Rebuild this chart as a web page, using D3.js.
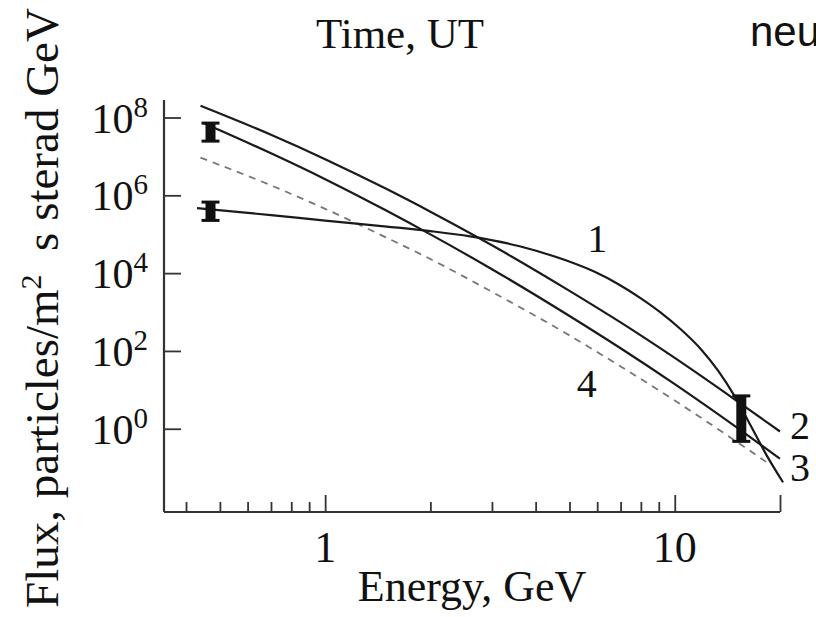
<!DOCTYPE html>
<html>
<head>
<meta charset="utf-8">
<script src="https://cdn.jsdelivr.net/npm/d3@7"></script>
<style>
  html, body { margin: 0; padding: 0; background: #fff; }
  svg { display: block; }
  .serif { font-family: "Liberation Serif", "Times New Roman", serif; fill: #111; }
  .sans { font-family: "Liberation Sans", Arial, sans-serif; fill: #111; }
</style>
</head>
<body>
<svg id="chart" width="816" height="617"></svg>
<script>
// Spectra: energy in GeV, flux in particles/(m^2 s sterad GeV)
const curve1Energy = [0.43, 0.7, 1, 1.5, 2, 2.6, 3.6, 4.9, 5.9, 6.9, 8, 9.1, 10.4, 11.9, 13.3, 14.8, 16.5, 18.3, 20.4];
const curve1Flux   = [4.7e5, 3.1e5, 2.24e5, 1.57e5, 1.2e5, 8.8e4, 4.9e4, 2.1e4, 1.08e4, 5.2e3, 2.25e3, 980, 360, 109, 31, 7.1, 1.19, 0.21, 0.042];

const curve2Energy = [0.44, 0.7, 1, 1.5, 2, 3, 5, 7, 10, 15, 20];
const curve2Flux   = [2.0e8, 3.6e7, 8.5e6, 1.45e6, 3.8e5, 5.2e4, 3.5e3, 5.4e2, 66, 5.3, 0.85];

const curve3Energy = [0.45, 0.7, 1, 1.5, 2, 3, 5, 7, 10, 15, 20];
const curve3Flux   = [7.1e7, 1.2e7, 2.6e6, 4.0e5, 9.9e4, 1.26e4, 7.9e2, 1.17e2, 14, 1.1, 0.17];

const curve4Energy = [0.44, 0.7, 1, 1.5, 2, 3, 5, 7, 10, 15, 18.5];
const curve4Flux   = [9.3e6, 1.8e6, 4.5e5, 8.1e4, 2.3e4, 3.3e3, 2.5e2, 40, 5.3, 0.47, 0.13];

// Measured points with error ranges
const errEnergy = [0.47, 0.47, 15.5];
const errLow    = [2.4e7, 2.2e5, 0.46];
const errHigh   = [7.4e7, 6.9e5, 7.2];

// Axis ticks
const xMajorTicks = [1, 10, 20];
const xMinorTicks = [0.4, 0.5, 0.6, 0.7, 0.8, 0.9, 2, 3, 4, 5, 6, 7, 8, 9];
const xTickLabels = ["1", "10"];
const yTickExponents = [0, 2, 4, 6, 8];

// Curve number labels: [label, energy, flux]
const curveLabels = [["1", 6.0, 3.5e4], ["4", 5.6, 6.5], ["2", 22.8, 0.55], ["3", 22.8, 0.045]];

const svg = d3.select("#chart");

const x = d3.scaleLog().domain([0.346, 20]).range([164, 780]);
const y = d3.scaleLog().domain([Math.pow(10, -2.14), Math.pow(10, 8.45)]).range([512, 100]);

// Axes
const axisColor = "#333";
const gx = svg.append("g").attr("transform", `translate(0,${y.range()[0]})`);
gx.call(d3.axisBottom(x).tickValues(xMinorTicks).tickSize(-10).tickFormat(""));
const gxMaj = svg.append("g").attr("transform", `translate(0,${y.range()[0]})`);
gxMaj.call(d3.axisBottom(x).tickValues(xMajorTicks).tickSize(-17).tickFormat(""));
[gx, gxMaj].forEach(g => {
  g.select(".domain").attr("stroke", axisColor).attr("stroke-width", 2.2)
    .attr("d", `M${x.range()[0]},0H${x.range()[1]}`);
  g.selectAll(".tick line").attr("stroke", axisColor).attr("stroke-width", 1.8);
});

const gy = svg.append("g").attr("transform", `translate(${x.range()[0]},0)`);
gy.call(d3.axisLeft(y).tickValues(yTickExponents.map(e => Math.pow(10, e))).tickSize(-17).tickFormat(""));
gy.select(".domain").attr("stroke", axisColor).attr("stroke-width", 2.2)
  .attr("d", `M0,${y.range()[1]}V${y.range()[0]}`);
gy.selectAll(".tick line").attr("stroke", axisColor).attr("stroke-width", 1.8);

// Y tick labels 10^n
yTickExponents.forEach(e => {
  const t = svg.append("text").attr("class", "serif")
    .attr("x", 148).attr("y", y(Math.pow(10, e)) + 15)
    .attr("text-anchor", "end").attr("font-size", 42);
  t.append("tspan").text("10");
  t.append("tspan").attr("dy", -16).attr("font-size", 29).text(String(e));
});

// X tick labels
[1, 10].forEach((v, i) => {
  svg.append("text").attr("class", "serif")
    .attr("x", x(v)).attr("y", 562)
    .attr("text-anchor", "middle").attr("font-size", 44)
    .text(xTickLabels[i]);
});

// Axis titles
svg.append("text").attr("class", "serif")
  .attr("x", (x.range()[0] + x.range()[1]) / 2).attr("y", 601)
  .attr("text-anchor", "middle").attr("font-size", 44)
  .text("Energy, GeV");

const yt = svg.append("text").attr("class", "serif")
  .attr("transform", "translate(58,308) rotate(-90)")
  .attr("text-anchor", "middle").attr("font-size", 47);
yt.append("tspan").text("Flux, particles/m");
yt.append("tspan").attr("dy", -17).attr("font-size", 30).text("2");
yt.append("tspan").attr("dy", 17).text("\u00a0\u00a0s sterad GeV");

// Neighbouring panel texts
svg.append("text").attr("class", "serif")
  .attr("x", 400).attr("y", 48).attr("text-anchor", "middle").attr("font-size", 43)
  .text("Time, UT");
svg.append("text").attr("class", "sans")
  .attr("x", 750).attr("y", 46).attr("font-size", 42)
  .text("neutron");

// Curves
const line = d3.line()
  .x(d => x(d[0])).y(d => y(d[1]))
  .curve(d3.curveMonotoneX);

const zip = (a, b) => a.map((v, i) => [v, b[i]]);

svg.append("path").datum(zip(curve4Energy, curve4Flux))
  .attr("d", line).attr("fill", "none")
  .attr("stroke", "#777").attr("stroke-width", 1.8).attr("stroke-dasharray", "7,6");

[[curve1Energy, curve1Flux], [curve2Energy, curve2Flux], [curve3Energy, curve3Flux]].forEach(([e, f]) => {
  svg.append("path").datum(zip(e, f))
    .attr("d", line).attr("fill", "none")
    .attr("stroke", "#1a1a1a").attr("stroke-width", 2.2);
});

// Error bars drawn as serif "I" shapes
errEnergy.forEach((e, i) => {
  const cx = x(e), y0 = y(errHigh[i]), y1 = y(errLow[i]);
  const g = svg.append("g").attr("fill", "#111");
  g.append("rect").attr("x", cx - 5).attr("y", y0).attr("width", 10).attr("height", y1 - y0);
  g.append("rect").attr("x", cx - 9).attr("y", y0 - 1).attr("width", 18).attr("height", 3);
  g.append("rect").attr("x", cx - 9).attr("y", y1 - 2).attr("width", 18).attr("height", 3);
});

// Curve numbers
curveLabels.forEach(([t, e, f]) => {
  svg.append("text").attr("class", "serif")
    .attr("x", x(e)).attr("y", y(f))
    .attr("text-anchor", "middle").attr("font-size", 40)
    .text(t);
});
</script>
</body>
</html>
